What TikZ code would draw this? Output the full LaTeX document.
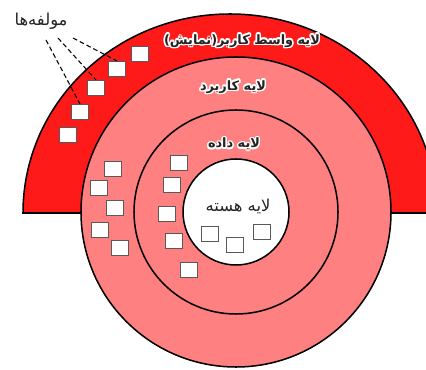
\documentclass[tikz,border=0pt]{standalone}
\usepackage{fontspec}
\newfontfamily\arabicfont[Script=Arabic]{DejaVu Sans}
\TeXXeTstate=1
\definecolor{layerred}{RGB}{255,26,26}
\definecolor{layerpink}{RGB}{255,128,128}
\definecolor{inkgray}{RGB}{35,35,35}
\tikzset{
  ring/.style={draw=black,line width=1.3pt},
  part/.style={draw=black!65,fill=white,line width=0.9pt,minimum width=0.51cm,minimum height=0.45cm,inner sep=0pt},
  lbl/.style={font=\arabicfont\fontsize{14}{16}\selectfont,text=inkgray,inner sep=0pt},
  boldlbl/.style={lbl,font=\arabicfont\fontsize{11}{13}\selectfont\bfseries}
}
\newcommand\glowlabel[3]{%
  \foreach\a in{0,30,...,330}\node[boldlbl,text=white]at([shift={(\a:1.3pt)}]#2){#3};
  \node[boldlbl](#1)at(#2){#3};}
\begin{document}
\begin{tikzpicture}[x=0.03cm,y=0.03cm]
\clip(0,0)rectangle(426,369);
% layers
\draw[ring,fill=layerred](23,156)arc[start angle=180,end angle=0,x radius=207,y radius=199]--cycle;
\draw[ring,fill=layerpink](236,157)circle[radius=155];
\draw[ring,fill=layerpink](236,157)circle[radius=102];
\draw[ring,fill=white](236,157)circle[radius=53];
% components
\node[part](r1)at(140,315){};
\node[part](r2)at(117,300){};
\node[part](r3)at(96,281){};
\node[part](r4)at(80,257){};
\node[part](r5)at(68,234){};
\node[part](p1)at(113,200){};
\node[part](p2)at(99,181){};
\node[part](p3)at(115,161){};
\node[part](p4)at(100,139){};
\node[part](p5)at(120,121){};
\node[part](d1)at(179,206){};
\node[part](d2)at(172,184){};
\node[part](d3)at(167,155){};
\node[part](d4)at(174,128){};
\node[part](d5)at(189,99){};
\node[part](k1)at(210,135){};
\node[part](k2)at(235,124){};
\node[part](k3)at(262,137){};
% labels
\glowlabel{ui}{242,328}{\hbox{\beginR لایه واسط کاربر(نمایش)\endR}}
\glowlabel{app}{233,282}{\hbox{\beginR لایه کاربرد\endR}}
\glowlabel{data}{234,225}{\hbox{\beginR لایه داده\endR}}
\node[lbl](core)at(238,163){\hbox{\beginR لایه هسته\endR}};
\node[lbl](comp)at(41,348){\hbox{\beginR مولفه‌ها\endR}};
\coordinate(c1)at(46,329);
\coordinate(c2)at(58,331);
\coordinate(c3)at(73,331);
\draw[dashed,dash pattern=on 4pt off 2.5pt,line width=0.9pt](c1)--(r4.north);
\draw[dashed,dash pattern=on 4pt off 2.5pt,line width=0.9pt](c2)--(r3.north);
\draw[dashed,dash pattern=on 4pt off 2.5pt,line width=0.9pt](c3)--(r2.north);
\end{tikzpicture}
\end{document}
